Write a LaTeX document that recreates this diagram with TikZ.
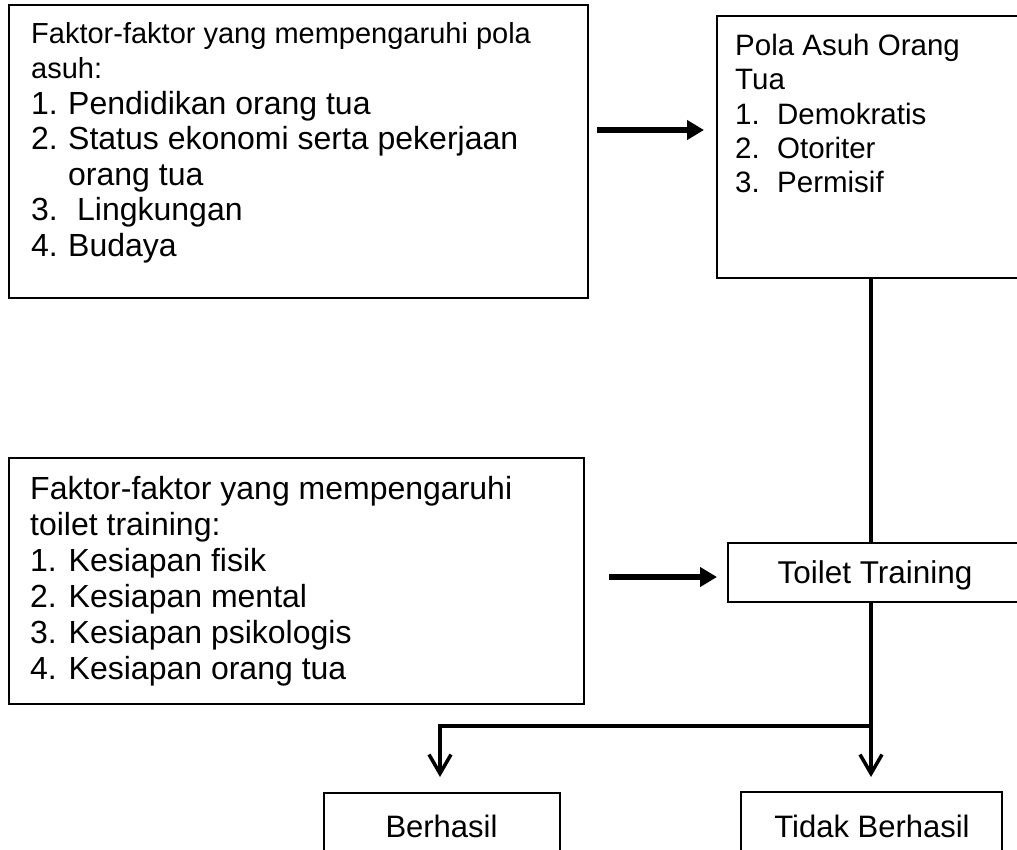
\documentclass[tikz,border=0pt]{standalone}
\usepackage{fontspec}
\setmainfont{Liberation Sans}
\usetikzlibrary{arrows.meta}
\setlength\parindent{0pt}
\newcommand\myfs[2]{\fontsize{#1}{#2}\selectfont}
\begin{document}
\begin{tikzpicture}[x=1pt,y=-1pt,
  box/.style={draw, line width=2pt, inner sep=0pt, anchor=north west},
  txt/.style={inner sep=0pt, anchor=north west, align=flush left, text width=#1},
  lbl/.style={inner sep=0pt, anchor=base, font=\myfs{31}{36}},
  conn/.style={line width=4pt},
  bigarrow/.style={line width=6pt, -{Triangle[length=17pt,width=19pt]}},
  downarrow/.style={line width=4pt, line join=miter, -{Straight Barb[length=19pt,width=22pt,line width=3.5pt]}}]
\clip (0,0) rectangle (1017,850);
\fill[white] (0,0) rectangle (1017,850);

% boxes
\node[box, minimum width=579pt, minimum height=293pt] (b1) at (8,4) {};
\node[box, minimum width=310pt, minimum height=262pt] (b2) at (716,15) {};
\node[box, minimum width=575pt, minimum height=246pt] (b3) at (8,457) {};
\node[box, minimum width=320pt, minimum height=59pt] (tt) at (727,542) {};
\node[box, minimum width=236pt, minimum height=80pt] (bh) at (323,792) {};
\node[box, minimum width=261pt, minimum height=80pt] (tb) at (740,791) {};

% texts
\node[txt=570pt, font=\myfs{32}{35.5}] (t1) at (31,22) {{\myfs{29}{35.5}Faktor-faktor yang mempengaruhi pola\\asuh:}\\
\makebox[37pt][l]{1.}Pendidikan orang tua\\
\makebox[37pt][l]{2.}Status ekonomi serta pekerjaan\\
\hspace*{37pt}orang tua\\
\makebox[37pt][l]{3.}\hspace*{9pt}Lingkungan\\
\makebox[37pt][l]{4.}Budaya};

\node[txt=280pt, font=\myfs{29.5}{34.3}] (t2) at (735,34) {Pola Asuh Orang\\Tua\\
\makebox[42pt][l]{1.}Demokratis\\
\makebox[42pt][l]{2.}Otoriter\\
\makebox[42pt][l]{3.}Permisif};

\node[txt=560pt, font=\myfs{32}{36}] (t3) at (30,476.6) {Faktor-faktor yang mempengaruhi\\toilet training:\\
1. Kesiapan fisik\\
2. Kesiapan mental\\
3. Kesiapan psikologis\\
4. Kesiapan orang tua};

\node[lbl, font=\myfs{31.5}{36}] (ttl) at (875,583) {Toilet Training};
\node[lbl] (bhl) at (441.5,837) {Berhasil};
\node[lbl] (tbl) at (872,837) {Tidak Berhasil};

% connectors
\coordinate (a1) at (597,130);
\coordinate (a2) at (609,577);
\coordinate (v) at (871,726);

\draw[bigarrow, shorten >=12pt] (a1) -- (a1 -| b2.west);
\draw[bigarrow, shorten >=10pt] (a2) -- (a2 -| tt.west);
\draw[conn] (v |- b2.south) -- (v |- tt.north);
\draw[downarrow, shorten >=14pt] (v |- tt.south) -- (v |- tb.north);
\draw[downarrow, shorten >=15pt] ([xshift=2pt]v) -| ([xshift=-2pt]bh.north);
\end{tikzpicture}
\end{document}
